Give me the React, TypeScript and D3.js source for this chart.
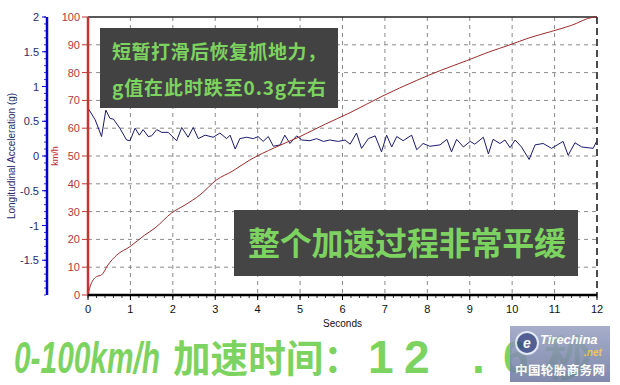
import React from "react";
import * as d3 from "d3";

const secondsTicks = [0, 1, 2, 3, 4, 5, 6, 7, 8, 9, 10, 11, 12];
const speedTicks = [0, 10, 20, 30, 40, 50, 60, 70, 80, 90, 100];
const gTicks = [-1.5, -1, -0.5, 0, 0.5, 1, 1.5, 2];

const speedTime = [0, 0.05, 0.2, 0.32, 0.47, 0.68, 0.99, 1.34, 1.58, 1.97, 2.29, 2.64, 3.03, 3.4, 3.82, 4.4, 5.0, 5.6, 6.18, 6.95, 7.75, 8.3, 8.93, 9.45, 9.95, 10.4, 10.9, 11.4, 11.9, 12.0];
const speedKmh = [0, 3, 6.6, 7.2, 10.8, 14.4, 17.4, 21.6, 24.1, 29.5, 32.4, 36, 41.4, 44.5, 48.6, 53, 57, 61.5, 65.6, 71.6, 77.2, 80.7, 84.3, 87.4, 90, 92.5, 94.7, 97, 99.9, 100];

const accTime = [0, 0.17, 0.32, 0.42, 0.52, 0.6, 0.75, 0.91, 0.99, 1.11, 1.21, 1.3, 1.42, 1.5, 1.62, 1.74, 1.89, 2.09, 2.21, 2.36, 2.48, 2.6, 2.76, 2.95, 3.11, 3.27, 3.35, 3.47, 3.58, 3.74, 3.9, 4.01, 4.13, 4.25, 4.37, 4.53, 4.64, 4.76, 4.92, 5.04, 5.23, 5.39, 5.55, 5.7, 5.9, 6.06, 6.18, 6.33, 6.45, 6.61, 6.77, 6.92, 7.04, 7.16, 7.28, 7.43, 7.63, 7.75, 7.9, 8.06, 8.3, 8.46, 8.57, 8.69, 8.85, 9.01, 9.12, 9.32, 9.44, 9.55, 9.71, 9.83, 9.95, 10.07, 10.22, 10.4, 10.54, 10.73, 10.93, 11.2, 11.32, 11.48, 11.64, 11.91, 11.99];
const accG = [0.69, 0.52, 0.28, 0.66, 0.54, 0.53, 0.4, 0.23, 0.22, 0.4, 0.3, 0.38, 0.28, 0.29, 0.38, 0.34, 0.34, 0.22, 0.41, 0.27, 0.41, 0.25, 0.3, 0.27, 0.33, 0.25, 0.3, 0.1, 0.25, 0.27, 0.25, 0.28, 0.21, 0.28, 0.14, 0.16, 0.3, 0.18, 0.29, 0.23, 0.22, 0.25, 0.21, 0.23, 0.21, 0.23, 0.17, 0.33, 0.11, 0.25, 0.29, 0.06, 0.3, 0.13, 0.28, 0.22, 0.3, 0.09, 0.18, 0.14, 0.16, 0.24, 0.06, 0.24, 0.13, 0.21, 0.17, 0.27, 0.03, 0.24, 0.18, 0.23, 0.12, 0.23, 0.13, -0.05, 0.16, 0.18, 0.11, 0.21, 0.01, 0.19, 0.13, 0.11, 0.21];

const note1 = ["短暂打滑后恢复抓地力，", "g值在此时跌至0.3g左右"];
const note2 = "整个加速过程非常平缓";
const titleParts = ["0-100km/h", "加速时间：", "12.6秒"];

export default function App() {
  const x = d3.scaleLinear().domain([0, 12]).range([88, 597]);
  const ySpeed = d3.scaleLinear().domain([0, 100]).range([295, 17]);
  const yG = d3.scaleLinear().domain([-2, 2]).range([295, 17]);

  const speedLine = d3.line<number>().x((_, i) => x(speedTime[i])).y((d) => ySpeed(d)).curve(d3.curveMonotoneX);
  const accLine = d3.line<number>().x((_, i) => x(accTime[i])).y((d) => yG(d));

  const minorX = d3.range(0, 12.001, 0.2);
  const minorG = d3.range(-2, 2.001, 0.1);
  const axisFont = "'Liberation Sans', Arial, sans-serif";
  const cjk = "'Noto Sans CJK SC', sans-serif";
  const green = "#7dd35f";

  return (
    <svg width={620} height={385} style={{ position: "absolute", left: 0, top: 0, background: "#fff" }}>
      <defs>
        <linearGradient id="logoGrad" x1="0" y1="0" x2="0" y2="1">
          <stop offset="0" stopColor="#9aa3c4" />
          <stop offset="1" stopColor="#6f7aa0" />
        </linearGradient>
      </defs>
      <rect x={0} y={0} width={620} height={385} fill="#fff" />
      {/* grid */}
      {speedTicks.slice(1, -1).map((v) => (
        <line key={"hg" + v} x1={x(0)} x2={x(12)} y1={ySpeed(v)} y2={ySpeed(v)} stroke="#8a8a8a" strokeDasharray="4,4" />
      ))}
      {secondsTicks.slice(1, -1).map((s) => (
        <line key={"vg" + s} x1={x(s)} x2={x(s)} y1={ySpeed(100)} y2={ySpeed(0)} stroke="#8a8a8a" strokeDasharray="4,4" />
      ))}
      {/* frame */}
      <line x1={x(0)} x2={x(12)} y1={ySpeed(100)} y2={ySpeed(100)} stroke="#222" strokeWidth={1.5} />
      <line x1={x(12)} x2={x(12)} y1={ySpeed(100)} y2={ySpeed(0)} stroke="#111" strokeWidth={1.5} strokeDasharray="7,4" />

      {/* annotation box 1 */}
      <rect x={100} y={28} width={238} height={80} fill="#424242" />
      <text x={219} y={59} textAnchor="middle" fontFamily={cjk} fontWeight={700} fontSize={19} fill={green} textLength={214}>{note1[0]}</text>
      <text x={219} y={95} textAnchor="middle" fontFamily={cjk} fontWeight={700} fontSize={19} fill={green} textLength={214}>{note1[1]}</text>

      {/* annotation box 2 */}
      <rect x={234} y={210} width={344} height={66} fill="#454545" />
      <text x={407} y={255} textAnchor="middle" fontFamily={cjk} fontWeight={700} fontSize={32} fill={green} textLength={318}>{note2}</text>

      {/* data */}
      <path d={accLine(accG) || ""} fill="none" stroke="#1a1a6e" strokeWidth={1} />
      <path d={speedLine(speedKmh) || ""} fill="none" stroke="#9b2b2b" strokeWidth={1} />

      {/* blue g axis */}
      <line x1={47} x2={47} y1={yG(2)} y2={yG(-2)} stroke="#0000c8" strokeWidth={2.5} />
      {minorG.map((g, i) => (
        <line key={"mg" + i} x1={44} x2={46} y1={yG(g)} y2={yG(g)} stroke="#0000c8" strokeWidth={0.8} />
      ))}
      {gTicks.map((g) => (
        <g key={"gt" + g}>
          <line x1={42} x2={46} y1={yG(g)} y2={yG(g)} stroke="#0000c8" />
          <text x={39} y={yG(g) + 4} textAnchor="end" fontFamily={axisFont} fontSize={11} fill="#2a2a6a">{g}</text>
        </g>
      ))}
      <text transform={`translate(15,${yG(0)}) rotate(-90)`} textAnchor="middle" fontFamily={axisFont} fontSize={10} fill="#2a2a6a">Longitudinal Acceleration (g)</text>
      <text transform={`translate(58,${yG(0)}) rotate(-90)`} textAnchor="middle" fontFamily={axisFont} fontSize={9} fill="#c03030">km/h</text>

      {/* red speed axis */}
      <line x1={x(0)} x2={x(0)} y1={ySpeed(100)} y2={ySpeed(0)} stroke="#c83232" strokeWidth={2.5} />
      {speedTicks.map((v) => (
        <g key={"st" + v}>
          <line x1={x(0) - 6} x2={x(0)} y1={ySpeed(v)} y2={ySpeed(v)} stroke="#c83232" />
          <text x={x(0) - 8} y={ySpeed(v) + 4} textAnchor="end" fontFamily={axisFont} fontSize={11} fill="#b03a3a">{v}</text>
        </g>
      ))}

      {/* bottom axis */}
      <line x1={x(0)} x2={x(12)} y1={ySpeed(0)} y2={ySpeed(0)} stroke="#000" strokeWidth={2.5} />
      {minorX.map((s, i) => (
        <line key={"mx" + i} x1={x(s)} x2={x(s)} y1={ySpeed(0)} y2={ySpeed(0) + 3} stroke="#000" strokeWidth={0.8} />
      ))}
      {secondsTicks.map((s) => (
        <g key={"xt" + s}>
          <line x1={x(s)} x2={x(s)} y1={ySpeed(0)} y2={ySpeed(0) + 5} stroke="#000" />
          <text x={x(s)} y={313} textAnchor="middle" fontFamily={axisFont} fontSize={11} fill="#111">{s}</text>
        </g>
      ))}
      <text x={x(6)} y={327} textAnchor="middle" fontFamily={axisFont} fontSize={10} fill="#111">Seconds</text>

      {/* big title */}
      <text x={14} y={373} fontFamily={axisFont} fontStyle="italic" fontWeight={700} fontSize={44} fill={green} textLength={146} lengthAdjust="spacingAndGlyphs">{titleParts[0]}</text>
      <text x={173} y={372} fontFamily={cjk} fontWeight={700} fontSize={38} fill={green} textLength={188} lengthAdjust="spacingAndGlyphs">{titleParts[1]}</text>
      <text x="368 404 472 503 545" y={373} fontFamily={axisFont} fontWeight={700} fontSize={46} fill={green}>{titleParts[2]}</text>

      {/* logo (semi-transparent watermark) */}
      <g opacity={0.88}>
        <rect x={510} y={326} width={100} height={56} fill="url(#logoGrad)" />
        <circle cx={527} cy={343} r={11} fill="#3a4a86" stroke="#e0e6f5" strokeWidth={2} />
        <text x={527} y={348} textAnchor="middle" fontFamily={axisFont} fontStyle="italic" fontWeight={700} fontSize={14} fill="#fff">e</text>
        <text x={540} y={344} fontFamily={axisFont} fontStyle="italic" fontWeight={700} fontSize={13} fill="#fff">Tirechina</text>
        <text x={584} y={356} fontFamily={axisFont} fontStyle="italic" fontWeight={700} fontSize={10} fill="#f0c040">.net</text>
        <text x={560} y={375} textAnchor="middle" fontFamily={cjk} fontWeight={700} fontSize={12.5} fill="#fff" textLength={90}>中国轮胎商务网</text>
      </g>
    </svg>
  );
}
